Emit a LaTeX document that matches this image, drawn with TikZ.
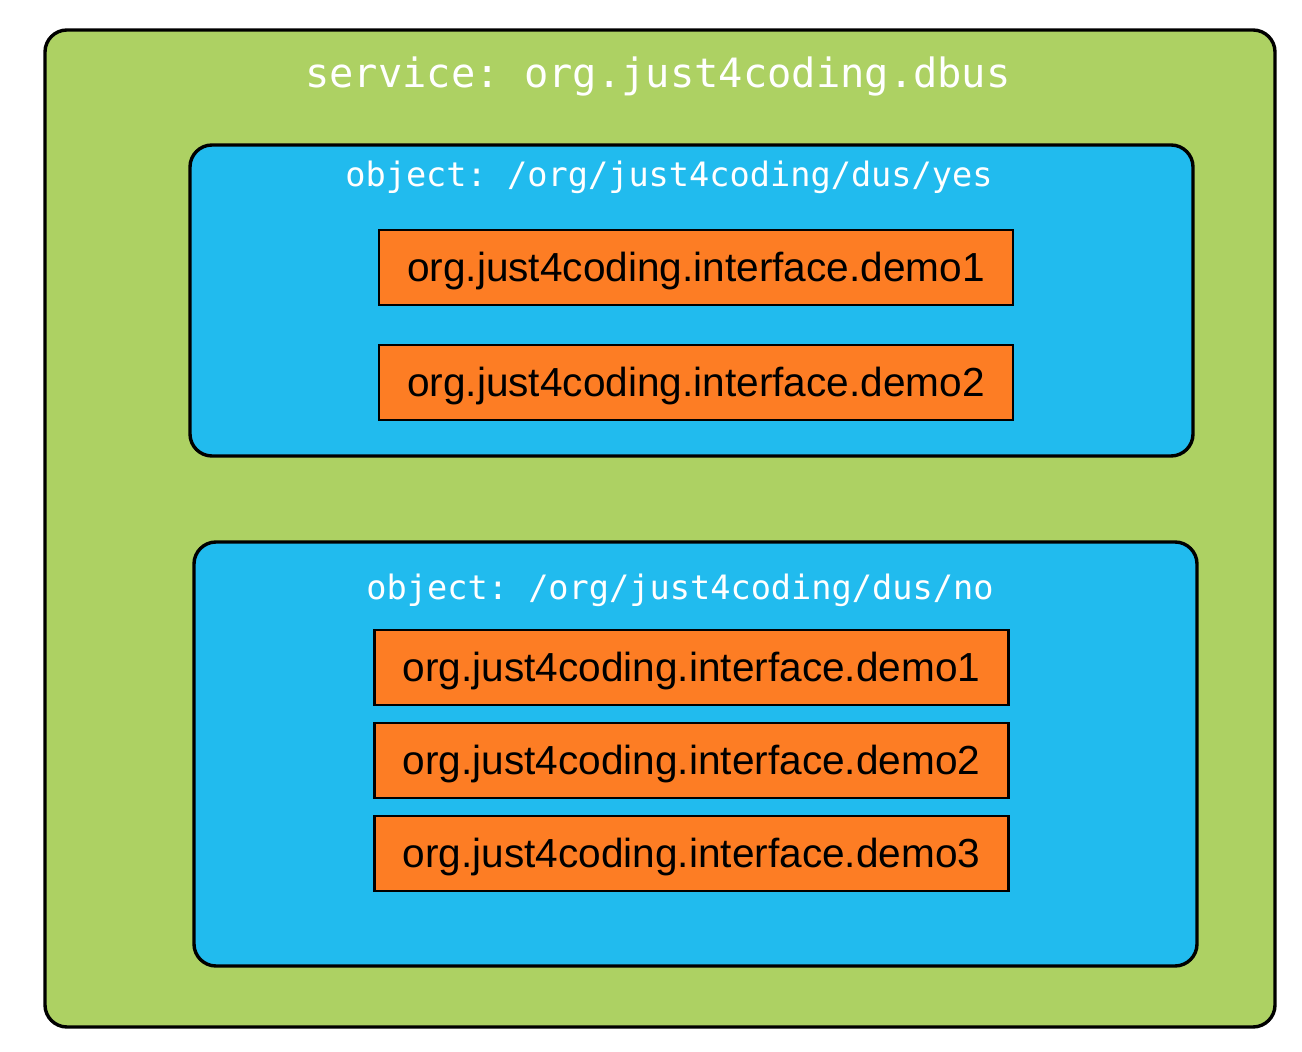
\documentclass[tikz,border=0pt]{standalone}
\usepackage{fontspec}
\setmainfont{Liberation Sans}
\setmonofont{DejaVu Sans Mono}
\definecolor{servicegreen}{RGB}{173,209,99}
\definecolor{objectblue}{RGB}{33,187,238}
\definecolor{ifaceorange}{RGB}{253,125,36}
\tikzset{
  servicebox/.style={draw, line width=1.7pt, fill=servicegreen, rounded corners=11pt,
    minimum width=615pt, minimum height=498.5pt, inner sep=0pt},
  objectbox/.style={draw, line width=1.7pt, fill=objectblue, rounded corners=11pt,
    minimum width=501.5pt, inner sep=0pt},
  ifacebox/.style={draw, line width=1.2pt, fill=ifaceorange, minimum width=317pt,
    minimum height=37.5pt, inner sep=0pt, text depth=1pt, font=\fontsize{20.3}{24}\selectfont},
  servicelabel/.style={text=white, inner sep=0pt, font=\ttfamily\fontsize{20.2}{24}\selectfont},
  objectlabel/.style={text=white, inner sep=0pt, font=\ttfamily\fontsize{16.8}{20}\selectfont}
}
\begin{document}
\begin{tikzpicture}[x=0.5pt,y=-0.5pt]
\useasboundingbox (0,0) rectangle (1302,1052);
% service
\node[servicebox] (service) at (660,528.5) {};
\node[servicelabel] (servicetitle) at (658,77) {service: org.just4coding.dbus};
% object yes
\node[objectbox, minimum height=155.5pt] (objyes) at (691.5,300.5) {};
\node[objectlabel] (objyestitle) at (669,177) {object: /org/just4coding/dus/yes};
\node[ifacebox] (yesdemo1) at (696,267.5) {org.just4coding.interface.demo1};
\node[ifacebox] (yesdemo2) at (696,382.5) {org.just4coding.interface.demo2};
% object no
\node[objectbox, minimum height=212pt] (objno) at (695.5,754) {};
\node[objectlabel] (objnotitle) at (680,590) {object: /org/just4coding/dus/no};
\node[ifacebox] (nodemo1) at (691.5,667.5) {org.just4coding.interface.demo1};
\node[ifacebox] (nodemo2) at (691.5,760.5) {org.just4coding.interface.demo2};
\node[ifacebox] (nodemo3) at (691.5,853.5) {org.just4coding.interface.demo3};
\end{tikzpicture}
\end{document}
